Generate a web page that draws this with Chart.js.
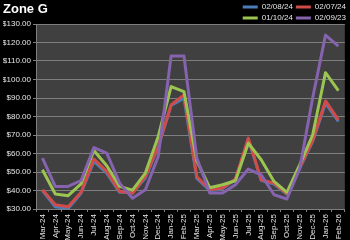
<!DOCTYPE html>
<html><head><meta charset="utf-8">
<script src="https://cdn.jsdelivr.net/npm/chart.js@4/dist/chart.umd.min.js"></script>
<style>html,body{margin:0;padding:0;background:#000;}canvas{display:block;}</style>
</head><body>
<canvas id="c" width="350" height="240"></canvas>
<script>
const categories = ['Mar-24','Apr-24','May-24','Jun-24','Jul-24','Aug-24','Sep-24','Oct-24','Nov-24','Dec-24','Jan-25','Feb-25','Mar-25','Apr-25','May-25','Jun-25','Jul-25','Aug-25','Sep-25','Oct-25','Nov-25','Dec-25','Jan-26','Feb-26'];
const seriesNames = ['02/08/24','02/07/24','01/10/24','02/09/23'];
const s_020824 = [39.9,31.2,30.3,38.5,55.7,49.4,39.0,38.8,46.8,63.5,86.0,89.9,46.5,40.0,41.0,46.0,67.5,45.5,43.5,38.0,52.0,66.5,87.2,77.3];
const s_020724 = [40.4,32.3,31.2,39.0,57.0,50.3,39.5,38.5,47.6,63.8,86.3,91.7,47.4,40.4,41.3,46.2,68.3,45.8,44.0,38.3,52.5,67.0,88.4,78.2];
const s_011024 = [51.2,38.1,37.2,43.6,61.6,53.4,42.2,40.2,49.4,69.2,96.2,93.5,56.0,41.5,43.1,45.3,65.6,56.6,44.9,39.0,54.0,70.0,103.7,94.0];
const s_020923 = [57.5,42.2,42.2,45.4,63.2,60.2,44.0,35.8,40.4,58.4,112.7,112.7,57.5,38.6,38.6,43.1,51.6,48.5,37.7,35.4,52.0,90.0,124.0,118.0];
const yMin = 30, yMax = 130, yStep = 10;
const colors = ['#4a7ebb','#d14b48','#9cc450','#8563ae'];
const FONT = "'Liberation Sans', Arial, sans-serif";

// legend: wrap into two rows of two items
const LegendCls = Chart.Legend && Chart.Legend._element;
if (LegendCls) {
  const origFit = LegendCls.prototype.fit;
  LegendCls.prototype.fit = function () {
    if (this.isHorizontal()) this.maxWidth = Math.min(this.maxWidth, 120);
    origFit.call(this);
    if (this.options.display) this.height = 24;
  };
}

const bgPlugin = {
  id: 'bg',
  beforeDraw(chart) {
    const {ctx, chartArea: a} = chart;
    ctx.save();
    ctx.fillStyle = '#000';
    ctx.fillRect(0, 0, chart.width, chart.height);
    ctx.fillStyle = '#404040';
    ctx.fillRect(a.left, a.top, a.right - a.left, a.bottom - a.top);
    ctx.restore();
  }
};

const seriesData = [s_020824, s_020724, s_011024, s_020923];
const datasets = seriesNames.map((n, i) => ({
  label: n,
  data: seriesData[i],
  borderColor: colors[i],
  backgroundColor: colors[i],
  borderWidth: 3,
  pointRadius: 0,
  tension: 0,
  fill: false,
  borderJoinStyle: 'round',
  order: 4 - i
}));

const gridColor = '#7f7f7f';
new Chart(document.getElementById('c'), {
  type: 'line',
  data: { labels: categories, datasets },
  options: {
    responsive: false,
    animation: false,
    devicePixelRatio: 1,
    layout: { padding: { left: 3, right: 1, top: 0, bottom: 0 } },
    plugins: {
      title: {
        display: true, text: 'Zone G', align: 'start', color: '#ffffff',
        font: { family: FONT, size: 13, weight: 'bold', lineHeight: 1.2 },
        padding: { top: 2, bottom: -17.6 }
      },
      legend: {
        display: true, position: 'top', align: 'end',
        labels: {
          color: '#e6e6e6', boxWidth: 15, boxHeight: 3, padding: 3,
          font: { family: FONT, size: 8 },
          sort: (a, b) => a.datasetIndex - b.datasetIndex,
          generateLabels: (chart) => Chart.defaults.plugins.legend.labels.generateLabels(chart).map(it => ({
            ...it, lineWidth: 0, fillStyle: colors[it.datasetIndex]
          }))
        }
      },
      tooltip: { enabled: false }
    },
    scales: {
      x: {
        type: 'category', offset: true,
        grid: { offset: true, drawOnChartArea: false, drawTicks: true, tickLength: 3, color: gridColor },
        border: { color: gridColor },
        ticks: { autoSkip: false, maxRotation: 90, minRotation: 90, padding: 2, color: '#e6e6e6', font: { family: FONT, size: 8 } },
        afterFit: (s) => { s.height = 31; }
      },
      y: {
        min: yMin, max: yMax,
        grid: { color: gridColor, tickLength: 3, drawTicks: true },
        border: { color: gridColor },
        ticks: { stepSize: yStep, padding: 2, color: '#e6e6e6', font: { family: FONT, size: 8 },
          callback: (v) => '$' + Number(v).toFixed(2) },
        afterFit: (s) => { s.width = 33; }
      }
    }
  },
  plugins: [bgPlugin]
});
</script>
</body></html>
